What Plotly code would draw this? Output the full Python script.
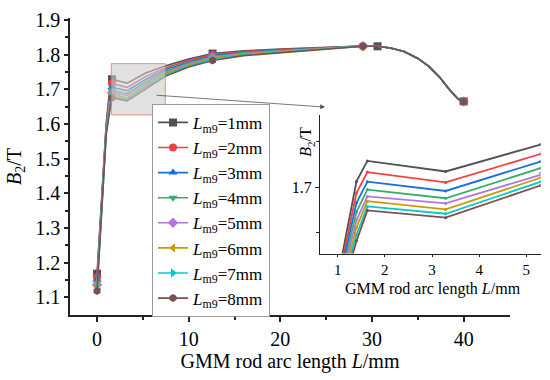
import plotly.graph_objects as go

# arc length positions (mm)
X = [0, 1.0, 1.4, 1.63, 3.29, 5.3, 7.5, 10, 12.6, 16, 20, 24, 27, 29, 30.6,
     32, 33.5, 35, 36.2, 37.4, 38.5, 39.4, 40]

TAIL = [1.819, 1.809, 1.789, 1.766, 1.734, 1.697, 1.672, 1.665]

B_lm1 = [1.168, 1.600, 1.7065, 1.729, 1.7174, 1.747, 1.768, 1.787, 1.803, 1.811, 1.816, 1.820, 1.823, 1.825, 1.824] + TAIL
B_lm2 = [1.157, 1.595, 1.694, 1.7167, 1.7054, 1.7366, 1.762, 1.783, 1.800, 1.809, 1.815, 1.819, 1.823, 1.825, 1.824] + TAIL
B_lm3 = [1.150, 1.590, 1.683, 1.7062, 1.696, 1.7283, 1.757, 1.779, 1.797, 1.807, 1.813, 1.818, 1.822, 1.825, 1.824] + TAIL
B_lm4 = [1.142, 1.586, 1.673, 1.6975, 1.688, 1.721, 1.752, 1.776, 1.794, 1.805, 1.812, 1.817, 1.822, 1.825, 1.824] + TAIL
B_lm5 = [1.136, 1.582, 1.664, 1.690, 1.6823, 1.7156, 1.748, 1.773, 1.792, 1.803, 1.810, 1.816, 1.821, 1.824, 1.824] + TAIL
B_lm6 = [1.130, 1.578, 1.656, 1.6848, 1.6757, 1.7105, 1.745, 1.770, 1.790, 1.801, 1.809, 1.815, 1.821, 1.824, 1.824] + TAIL
B_lm7 = [1.125, 1.574, 1.648, 1.679, 1.671, 1.706, 1.741, 1.767, 1.788, 1.799, 1.807, 1.814, 1.820, 1.824, 1.824] + TAIL
B_lm8 = [1.118, 1.570, 1.641, 1.6747, 1.6667, 1.702, 1.738, 1.764, 1.783, 1.797, 1.806, 1.814, 1.820, 1.824, 1.824] + TAIL

SERIES = [B_lm1, B_lm2, B_lm3, B_lm4, B_lm5, B_lm6, B_lm7, B_lm8]
LABELS = ["<i>L</i><sub>m9</sub>=%dmm" % k for k in range(1, 9)]

COLORS = ['#515151', '#F14040', '#1A6FDF', '#37AD6B', '#B177DE', '#CC9900', '#00CBCC', '#7D4E4E']
SYMBOLS = ['square', 'circle', 'triangle-up', 'triangle-down', 'diamond',
           'triangle-left', 'triangle-right', 'hexagon']

FONT = "Liberation Serif"
fig = go.Figure()

for i, ys in enumerate(SERIES):
    # marker positions (indices)
    idx = [0, 3, 8, 14 if i == 0 else 13, len(X) - 1]
    fig.add_trace(go.Scatter(x=X, y=ys, mode='lines', line=dict(color=COLORS[i], width=1.6),
                             showlegend=False, xaxis='x', yaxis='y'))
    fig.add_trace(go.Scatter(x=[X[j] for j in idx], y=[ys[j] for j in idx], mode='markers',
                             marker=dict(color=COLORS[i], symbol=SYMBOLS[i], size=8),
                             showlegend=False, xaxis='x', yaxis='y'))
    fig.add_trace(go.Scatter(x=[None], y=[None], mode='lines+markers', name=LABELS[i],
                             line=dict(color=COLORS[i], width=1.6),
                             marker=dict(color=COLORS[i], symbol=SYMBOLS[i], size=8),
                             xaxis='x', yaxis='y'))

for i, ys in enumerate(SERIES):
    fig.add_trace(go.Scatter(x=X, y=ys, mode='lines+markers', line=dict(color=COLORS[i], width=1.8),
                             marker=dict(color=COLORS[i], size=3), showlegend=False,
                             xaxis='x2', yaxis='y2'))

W, H = 550, 380
L, R, T, B = 70, 9, 15, 65
pw = W - L - R
ph = H - T - B

def px(xp):
    return (xp - L) / pw

def py(yp):
    return (H - B - yp) / ph

axis_common = dict(showline=True, linecolor='#222', linewidth=1.5, showgrid=False, zeroline=False,
                   ticks='outside', tickcolor='#222', mirror=False)

fig.update_layout(
    width=W, height=H,
    margin=dict(l=L, r=R, t=T, b=B),
    paper_bgcolor='white', plot_bgcolor='rgba(0,0,0,0)',
    font=dict(family=FONT, color='black'),
    xaxis=dict(domain=[0, px(510)], range=[-2.95, 45.05], tickvals=[0, 10, 20, 30, 40],
               ticklen=5, tickwidth=1.5, tickfont=dict(size=20),
               minor=dict(tickvals=[5, 15, 25, 35], ticklen=3, tickcolor='#222', ticks='outside'),
               title=dict(text='GMM rod arc length <i>L</i>/mm', font=dict(size=20), standoff=4),
               anchor='y', **axis_common),
    yaxis=dict(domain=[0, 1], range=[1.0486, 1.9057], tickvals=[1.1, 1.2, 1.3, 1.4, 1.5, 1.6, 1.7, 1.8, 1.9],
               ticktext=['1.1', '1.2', '1.3', '1.4', '1.5', '1.6', '1.7', '1.8', '1.9'],
               ticklen=4, tickwidth=1.5, tickfont=dict(size=20),
               minor=dict(tickvals=[1.15, 1.25, 1.35, 1.45, 1.55, 1.65, 1.75, 1.85], ticklen=3,
                          tickcolor='#222', ticks='outside'),
               title=dict(text='<i>B</i><sub>2</sub>/T', font=dict(size=20), standoff=8),
               anchor='x', **axis_common),
    xaxis2=dict(domain=[px(320), px(540.5)], range=[0.626, 5.3], tickvals=[1, 2, 3, 4, 5],
                ticklen=2, tickwidth=1, tickfont=dict(size=15), anchor='y2',
                showline=True, linecolor='#222', linewidth=1.2, showgrid=False, zeroline=False,
                ticks='outside', tickcolor='#222'),
    yaxis2=dict(domain=[py(253), py(113)], range=[1.6272, 1.7794], tickvals=[1.7], ticktext=['1.7'],
                ticklen=4, tickwidth=1, tickfont=dict(size=16), anchor='x2',
                minor=dict(tickvals=[1.65, 1.75], ticklen=3, tickcolor='#222', ticks='outside'),
                showline=True, linecolor='#222', linewidth=1.2, showgrid=False, zeroline=False,
                ticks='outside', tickcolor='#222'),
    legend=dict(x=px(152), y=py(101.7), xanchor='left', yanchor='top',
                bgcolor='white', bordercolor='#999', borderwidth=1,
                font=dict(size=17, family=FONT), tracegroupgap=0),
    showlegend=True,
)

fig.add_shape(type='rect', xref='x', yref='y', x0=1.56, x1=7.45, y0=1.626, y1=1.774,
              fillcolor='rgba(205,205,205,0.6)', line=dict(color='rgba(240,110,110,0.8)', width=1),
              layer='above')

fig.add_annotation(xref='paper', yref='paper', x=px(325), y=py(105), ax=-170, ay=-12,
                   showarrow=True, arrowhead=2, arrowsize=1.2, arrowwidth=0.8, arrowcolor='#555', text='')

fig.add_annotation(xref='paper', yref='paper', x=px(433), y=py(289),
                   text='GMM rod arc length <i>L</i>/mm', showarrow=False,
                   font=dict(size=16, family=FONT), xanchor='center', yanchor='middle')
fig.add_annotation(xref='paper', yref='paper', x=px(307), y=py(140),
                   text='<i>B</i><sub>2</sub>/T', showarrow=False, textangle=-90,
                   font=dict(size=16, family=FONT), xanchor='center', yanchor='middle')

fig.write_html("out.html", post_script="document.body.style.margin='0';",
               config={'displayModeBar': False})
